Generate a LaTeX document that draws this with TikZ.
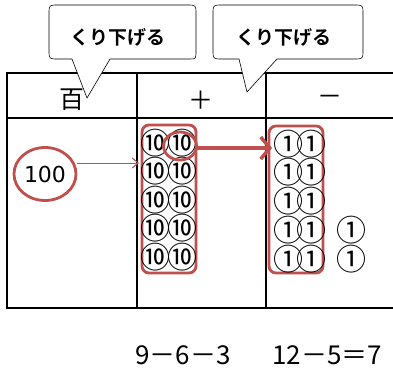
\documentclass[tikz,border=0pt]{standalone}
\usepackage{fontspec}
\newfontfamily\jp[BoldFont={Noto Sans CJK JP Bold}]{Noto Sans CJK JP}
\newfontfamily\djv{DejaVu Sans}
\usetikzlibrary{arrows.meta,shapes.geometric}
\definecolor{rd}{HTML}{C0504D}
\begin{document}
\begin{tikzpicture}[x=1pt,y=-1pt,
  tbl/.style={line width=2.2pt},
  callout/.style={draw,line width=0.6pt,fill=white},
  ctext/.style={font=\jp\bfseries\fontsize{19}{19}\selectfont},
  grp/.style={draw=rd,line width=2.8pt,rounded corners=7pt},
  ten/.style={font=\jp\fontsize{30}{30}\selectfont,inner sep=0pt},
  one/.style={font=\jp\fontsize{30}{30}\selectfont,inner sep=0pt},
  hdr/.style={font=\jp\fontsize{25}{25}\selectfont},
  eq/.style={font=\jp\fontsize{26}{26}\selectfont,anchor=west,inner sep=0pt}]
\useasboundingbox (0,0) rectangle (393,369);
% table
\draw[tbl] (393,73) -- (7,73) -- (7,308) -- (393,308);
\draw[tbl] (7,118) -- (393,118);
\draw[tbl] (137,73) -- (137,308);
\draw[tbl] (266,73) -- (266,308);
\node[hdr] (h1) at (72,100) {百};
\node[hdr] (h2) at (201,100) {＋};
\node[hdr] (h3) at (330,100) {－};
% callouts
\draw[callout] (72,59) -- (87,98) -- (110,59) -- (190,59)
  .. controls (196,59) and (196,59) .. (196,50) -- (196,14)
  .. controls (196,5) and (196,5) .. (187,5) -- (58,5)
  .. controls (49,5) and (49,5) .. (49,14) -- (49,50)
  .. controls (49,59) and (49,59) .. (58,59) -- cycle;
\node[ctext] (c1) at (118,37) {くり下げる};
\draw[callout] (239,59) -- (247,92) -- (277,59) -- (354,59)
  .. controls (363,59) and (363,59) .. (363,50) -- (363,14)
  .. controls (363,5) and (363,5) .. (354,5) -- (222,5)
  .. controls (213,5) and (213,5) .. (213,14) -- (213,50)
  .. controls (213,59) and (213,59) .. (222,59) -- cycle;
\node[ctext] (c2) at (284,37) {くり下げる};
% hundred
\node[draw=rd,line width=2.8pt,ellipse,minimum width=62pt,minimum height=53pt,inner sep=0pt,
  font=\djv\fontsize{22}{22}\selectfont] (hun) at (45,174) {100};
% tens group
\draw[grp] (142,125) rectangle (196,273);
\foreach \y [count=\i] in {143,171,200,228,257}{
  \node[ten] (ta\i) at (155,\y) {⑩};
  \node[ten] (tb\i) at (182,\y) {⑩};
}
\node[draw=rd,line width=2.8pt,ellipse,minimum width=33pt,minimum height=28pt] (sel) at (180,146) {};
\coordinate (hin) at (139,163);
\draw[rd,line width=1pt,-{Straight Barb[length=6pt,width=10pt]}] (hun.east|-hin) -- (hin);
% ones group
\draw[grp] (269,126) rectangle (323,273);
\foreach \y [count=\i] in {144,172,201,230,259}{
  \node[one] (oa\i) at (288,\y) {①};
  \node[one] (ob\i) at (311,\y) {①};
}
\node[one] (oc4) at (351,230) {①};
\node[one] (oc5) at (351,259) {①};
\coordinate (oin) at (272,148);
\draw[rd,line width=3.5pt,line cap=round,-{Straight Barb[length=9pt,width=22pt,line width=3.5pt]}] (sel.east|-oin) -- (oin);
% equations
\node[eq] (e1) at (135,355) {9－6－3};
\node[eq] (e2) at (272,355) {12－5＝7};
\end{tikzpicture}
\end{document}
